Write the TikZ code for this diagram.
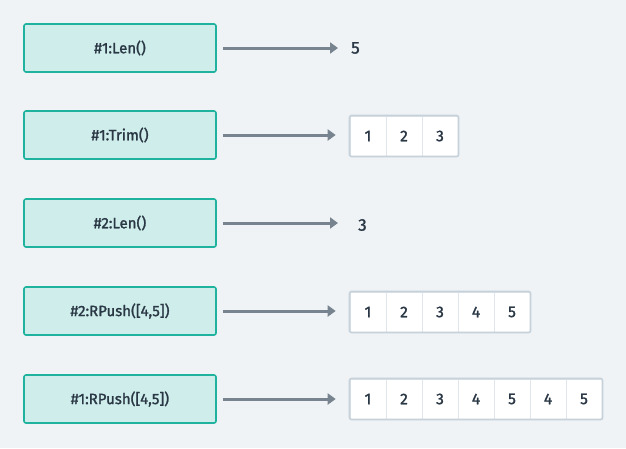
\documentclass[tikz,border=0pt]{standalone}
\usepackage{fontspec}
\setmainfont{Fira Sans}[FakeBold=1.5]
\usepackage{xcolor}
\usetikzlibrary{positioning}
\usetikzlibrary{arrows.meta}
\usetikzlibrary{fit}
\definecolor{bgcol}{HTML}{EFF3F6}
\definecolor{opfill}{HTML}{CFEEEB}
\definecolor{opline}{HTML}{1FB29E}
\definecolor{arrcol}{HTML}{77848F}
\definecolor{txtcol}{HTML}{2A3744}
\definecolor{cellline}{HTML}{C6D1DA}
\definecolor{divline}{HTML}{E0E6EB}
\tikzset{>={Triangle[width=11pt,length=8pt]}}

\begin{document}
\begin{tikzpicture}[
            x=1pt, y=-1pt,
            op/.style={rectangle, draw=opline, fill=opfill, line width=1.6pt, rounded corners=2pt, minimum width=192pt, minimum height=48pt, text=txtcol, font=\fontsize{15}{17}\selectfont},
            res/.style={inner sep=0pt, anchor=west, text=txtcol, font=\fontsize{17}{19}\selectfont},
            cell/.style={rectangle, draw=divline, fill=white, line width=1pt, minimum width=36pt, minimum height=40pt, inner sep=0pt, text=txtcol, font=\fontsize{15.5}{17}\selectfont},
            arrbox/.style={rectangle, draw=cellline, line width=1.6pt, rounded corners=2pt, inner sep=0pt},
            flow/.style={->, draw=arrcol, line width=3pt, shorten <=6pt, shorten >=13pt}
        ]
        \fill[bgcol] (0,0) rectangle (626,448);
        % operations
        \node[op] (lenA) at (120,48) {\#1:Len()};
        \node[op] (trimA) at (120,135) {\#1:Trim()};
        \node[op] (lenB) at (120,223) {\#2:Len()};
        \node[op] (pushB) at (120,311) {\#2:RPush([4,5])};
        \node[op] (pushA) at (120,399) {\#1:RPush([4,5])};
        % results
        \node[res] (lenAres) at (351,48) {5};
        \node[res] (lenBres) at (358,225) {3};
        \foreach \v [count=\i] in {1,2,3}
            \node[cell] (trimAc\i) at (332+36*\i,136) {\v};
        \foreach \v [count=\i] in {1,2,3,4,5}
            \node[cell] (pushBc\i) at (332+36*\i,312) {\v};
        \foreach \v [count=\i] in {1,2,3,4,5,4,5}
            \node[cell] (pushAc\i) at (332+36*\i,399) {\v};
        \node[arrbox, fit=(trimAc1)(trimAc3)] (trimAres) {};
        \node[arrbox, fit=(pushBc1)(pushBc5)] (pushBres) {};
        \node[arrbox, fit=(pushAc1)(pushAc7)] (pushAres) {};
        % arrows
        \draw[flow] (lenA.east) -- (lenA.east -| lenAres.west);
        \draw[flow] (trimA.east) -- (trimA.east -| trimAres.west);
        \draw[flow, shorten >=20pt] (lenB.east) -- (lenB.east -| lenBres.west);
        \draw[flow] (pushB.east) -- (pushB.east -| pushBres.west);
        \draw[flow] (pushA.east) -- (pushA.east -| pushAres.west);
\end{tikzpicture}
\end{document}
